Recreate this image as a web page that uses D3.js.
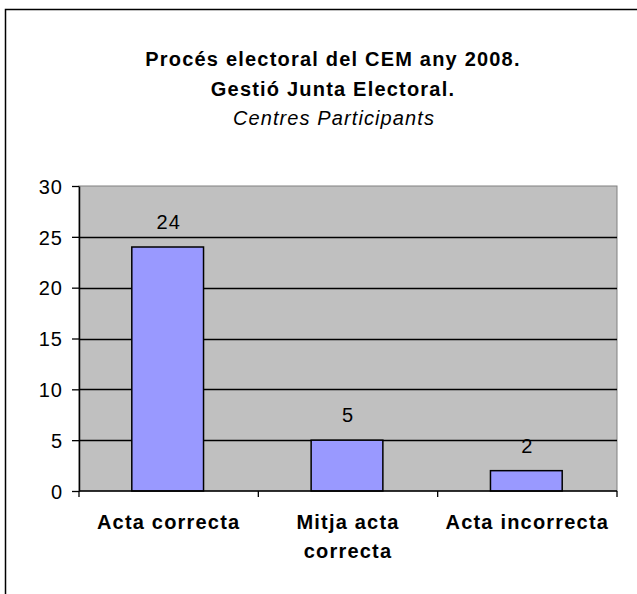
<!DOCTYPE html>
<head>
  <meta charset="utf-8">
  <style>
    body { margin: 0; background: #fff; }
    svg text { font-family: "Liberation Sans", Arial, sans-serif; fill: #000; }
    svg .tick text { font-size: 20px; letter-spacing: 1px; }
  </style>
</head>
<body>
<script src="https://d3js.org/d3.v7.min.js"></script>
<script>
  // chart values
  var categories = [["Acta correcta"], ["Mitja acta", "correcta"], ["Acta incorrecta"]];
  var values = [24, 5, 2];
  var yTicks = [0, 5, 10, 15, 20, 25, 30];
  var titleLines = ["Procés electoral del CEM any 2008.", "Gestió Junta Electoral."];
  var subtitle = "Centres Participants";

  var W = 637, H = 594;
  var plot = { left: 79, top: 186, right: 617, bottom: 491 };

  var svg = d3.select("body")
    .append("svg")
      .attr("width", W)
      .attr("height", H);

  // outer chart frame (cut off on the right and bottom)
  svg.append("rect")
    .attr("x", 5.5)
    .attr("y", 9.5)
    .attr("width", 700)
    .attr("height", 700)
    .style("fill", "#fff")
    .style("stroke", "#000")
    .style("stroke-width", "1.5px");

  // titles
  svg.selectAll("text.title")
    .data(titleLines)
    .enter().append("text")
      .classed("title", true)
      .attr("x", 333)
      .attr("y", function (d, i) { return 66 + i * 30; })
      .style("text-anchor", "middle")
      .style("font-size", "20px")
      .style("font-weight", "bold")
      .style("letter-spacing", "1.2px")
      .text(function (d) { return d; });

  svg.append("text")
    .attr("x", 334)
    .attr("y", 125)
    .style("text-anchor", "middle")
    .style("font-size", "20px")
    .style("font-style", "italic")
    .style("letter-spacing", "1.1px")
    .text(subtitle);

  // scales
  var xScale = d3.scaleBand()
    .domain(d3.range(categories.length))
    .range([plot.left, plot.right])
    .paddingInner(0.6)
    .paddingOuter(0.3);
  var xBounds = d3.scaleLinear().domain([0, categories.length]).range([plot.left, plot.right]);
  var yScale = d3.scaleLinear().domain([0, 30]).range([plot.bottom, plot.top]);

  // plot area
  svg.append("rect")
    .attr("x", plot.left)
    .attr("y", plot.top)
    .attr("width", plot.right - plot.left)
    .attr("height", plot.bottom - plot.top)
    .style("fill", "#C0C0C0")
    .style("stroke", "#808080")
    .style("stroke-width", "1px");

  // horizontal grid lines
  svg.selectAll("line.grid")
    .data(yTicks.filter(function (d) { return d > 0 && d < 30; }))
    .enter().append("line")
      .classed("grid", true)
      .attr("x1", plot.left)
      .attr("x2", plot.right)
      .attr("y1", function (d) { return Math.round(yScale(d)) + 0.5; })
      .attr("y2", function (d) { return Math.round(yScale(d)) + 0.5; })
      .style("stroke", "#000")
      .style("stroke-width", "1.3px");

  // bars
  svg.selectAll("rect.bar")
    .data(values)
    .enter().append("rect")
      .classed("bar", true)
      .attr("x", function (d, i) { return xScale(i) - 1; })
      .attr("y", function (d) { return yScale(d); })
      .attr("width", xScale.bandwidth())
      .attr("height", function (d) { return yScale(0) - yScale(d); })
      .style("fill", "#9999FF")
      .style("stroke", "#000")
      .style("stroke-width", "1.5px");

  // value labels
  svg.selectAll("text.value")
    .data(values)
    .enter().append("text")
      .classed("value", true)
      .attr("x", function (d, i) { return xScale(i) + xScale.bandwidth() / 2; })
      .attr("y", function (d) { return yScale(d) - 18; })
      .style("text-anchor", "middle")
      .style("font-size", "20px")
      .style("letter-spacing", "1px")
      .text(function (d) { return d; });

  // y axis
  var yAxis = d3.axisLeft(yScale)
    .tickValues(yTicks)
    .tickSize(7)
    .tickPadding(9)
    .tickSizeOuter(0);

  var ya = svg.append("g")
    .attr("transform", "translate(" + plot.left + ",0)")
    .call(yAxis);
  ya.select(".domain").style("stroke", "#000").style("stroke-width", "1.5px");
  ya.selectAll(".tick line").style("stroke", "#000").style("stroke-width", "1.3px");
  ya.selectAll(".tick text").attr("dy", "0.36em");

  // x axis line and tick marks at category boundaries
  svg.append("line")
    .attr("x1", plot.left)
    .attr("x2", plot.right)
    .attr("y1", yScale(0))
    .attr("y2", yScale(0))
    .style("stroke", "#000")
    .style("stroke-width", "1.5px");

  svg.selectAll("line.xtick")
    .data(d3.range(categories.length + 1))
    .enter().append("line")
      .classed("xtick", true)
      .attr("x1", function (d) { return xBounds(d); })
      .attr("x2", function (d) { return xBounds(d); })
      .attr("y1", yScale(0))
      .attr("y2", yScale(0) + 6)
      .style("stroke", "#000")
      .style("stroke-width", "1.3px");

  // category labels
  var cat = svg.selectAll("text.cat")
    .data(categories)
    .enter().append("text")
      .classed("cat", true)
      .attr("x", function (d, i) { return xScale(i) + xScale.bandwidth() / 2; })
      .attr("y", 529)
      .style("text-anchor", "middle")
      .style("font-size", "20px")
      .style("font-weight", "bold")
      .style("letter-spacing", "1.2px");
  cat.selectAll("tspan")
    .data(function (d) { return d; })
    .enter().append("tspan")
      .attr("x", function () { return d3.select(this.parentNode).attr("x"); })
      .attr("dy", function (d, i) { return i === 0 ? 0 : 29; })
      .text(function (d) { return d; });
</script>
</body>
</html>
